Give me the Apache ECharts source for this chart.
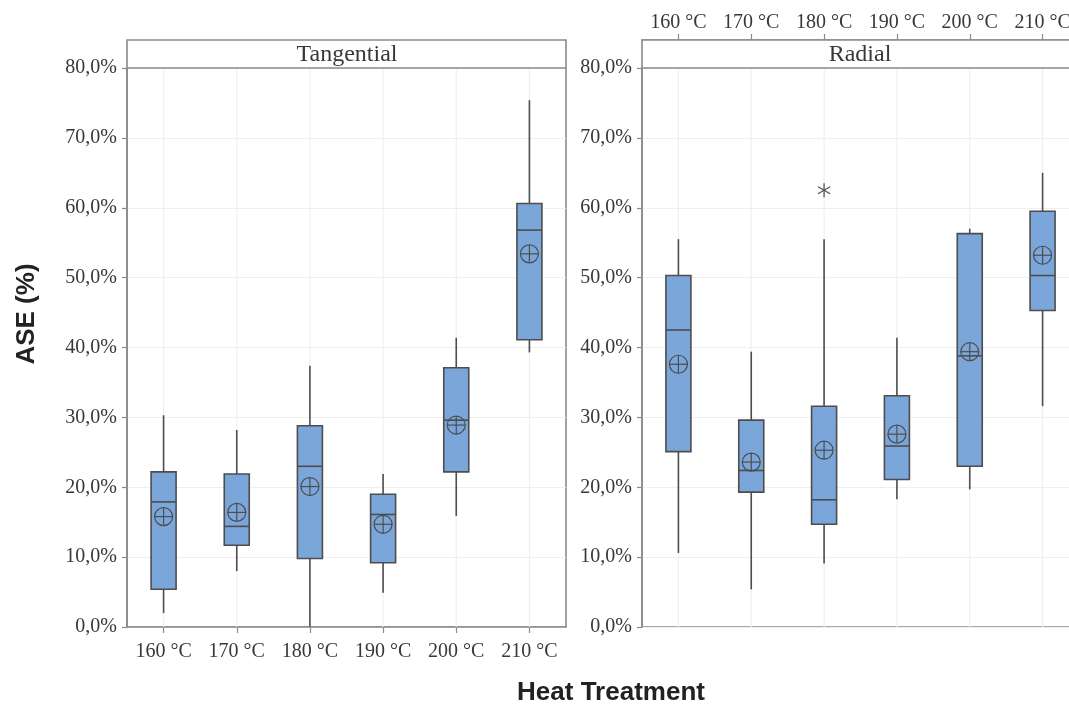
<!DOCTYPE html>
<html>
<head>
<meta charset="utf-8">
<script src="https://cdn.jsdelivr.net/npm/echarts@6/dist/echarts.min.js"></script>
<style>html,body{margin:0;padding:0;background:#fff}#c{width:1069px;height:706px}</style>
</head>
<body>
<div id="c"></div>
<script>
const categories = ['160 °C','170 °C','180 °C','190 °C','200 °C','210 °C'];
const yTicks = [0,10,20,30,40,50,60,70,80];
// [whiskerLow, Q1, median, Q3, whiskerHigh] in %
const tangentialBox = [
  [2.0, 5.4, 17.9, 22.2, 30.3],
  [8.0, 11.7, 14.4, 21.9, 28.2],
  [0.0, 9.8, 23.0, 28.8, 37.4],
  [4.9, 9.2, 16.1, 19.0, 21.9],
  [15.9, 22.2, 29.6, 37.1, 41.4],
  [39.3, 41.1, 56.8, 60.6, 75.4]
];
const tangentialMean = [15.8, 16.4, 20.1, 14.7, 28.9, 53.4];
const radialBox = [
  [10.6, 25.1, 42.5, 50.3, 55.5],
  [5.4, 19.3, 22.4, 29.6, 39.4],
  [9.1, 14.7, 18.2, 31.6, 55.5],
  [18.3, 21.1, 25.9, 33.1, 41.4],
  [19.7, 23.0, 38.8, 56.3, 57.0],
  [31.6, 45.3, 50.3, 59.5, 65.0]
];
const radialMean = [37.6, 23.6, 25.3, 27.6, 39.4, 53.2];
const radialOutliers = [[2, 62.5]];

const AX = '#8a8a8a', EDGE = '#4d4d4d', FILL = '#7ba6da', GRID = '#efefef';
const SERIF = '"Liberation Serif","Times New Roman",serif';
const SANS = '"Liberation Sans",Arial,sans-serif';
const fmt = v => v.toFixed(1).replace('.', ',') + '%';
const yMin = yTicks[0], yMax = yTicks[yTicks.length - 1];

function boxRender(params, api) {
  const i = api.value(0);
  const x = api.coord([i, 0])[0];
  const yl = api.coord([i, api.value(1)])[1];
  const q1 = api.coord([i, api.value(2)])[1];
  const md = api.coord([i, api.value(3)])[1];
  const q3 = api.coord([i, api.value(4)])[1];
  const yh = api.coord([i, api.value(5)])[1];
  const hw = 12.5;
  const ls = {stroke: EDGE, lineWidth: 1.6};
  return {type: 'group', children: [
    {type: 'line', shape: {x1: x, y1: q3, x2: x, y2: yh}, style: ls},
    {type: 'line', shape: {x1: x, y1: q1, x2: x, y2: yl}, style: ls},
    {type: 'rect', shape: {x: x - hw, y: q3, width: hw * 2, height: q1 - q3}, style: {fill: FILL, stroke: EDGE, lineWidth: 1.6}},
    {type: 'line', shape: {x1: x - hw, y1: md, x2: x + hw, y2: md}, style: ls}
  ]};
}
function meanRender(params, api) {
  const p = api.coord([api.value(0), api.value(1)]);
  const r = 9;
  const ls = {stroke: EDGE, lineWidth: 1.2};
  return {type: 'group', children: [
    {type: 'circle', shape: {cx: p[0], cy: p[1], r: r}, style: {stroke: EDGE, lineWidth: 1.2, fill: 'none'}},
    {type: 'line', shape: {x1: p[0] - r, y1: p[1], x2: p[0] + r, y2: p[1]}, style: ls},
    {type: 'line', shape: {x1: p[0], y1: p[1] - r, x2: p[0], y2: p[1] + r}, style: ls}
  ]};
}
function starRender(params, api) {
  const p = api.coord([api.value(0), api.value(1)]);
  const r = 7, ls = {stroke: '#555', lineWidth: 1.3};
  const ch = [];
  for (let k = 0; k < 3; k++) {
    const a = Math.PI / 2 + k * Math.PI / 3;
    ch.push({type: 'line', shape: {x1: p[0] - r * Math.cos(a), y1: p[1] - r * Math.sin(a), x2: p[0] + r * Math.cos(a), y2: p[1] + r * Math.sin(a)}, style: ls});
  }
  return {type: 'group', children: ch};
}
function vgridRender(params, api) {
  const i = api.value(0);
  const a = api.coord([i, yMin]), b = api.coord([i, yMax]);
  return {type: 'line', shape: {x1: a[0], y1: a[1], x2: b[0], y2: b[1]}, style: {stroke: GRID, lineWidth: 1.2}};
}

const boxData = arr => arr.map((b, i) => [i].concat(b));
const meanData = arr => arr.map((m, i) => [i, m]);
const catIdx = categories.map((c, i) => [i]);

function yAxis(idx) {
  return {
    type: 'value', gridIndex: idx, min: yMin, max: yMax, interval: 10,
    axisLine: {show: true, lineStyle: {color: AX, width: 1.6}},
    axisTick: {show: true, length: 5, lineStyle: {color: AX, width: 1.2}},
    axisLabel: {formatter: fmt, color: '#383838', fontFamily: SERIF, fontSize: 20, margin: 10},
    splitLine: {show: true, lineStyle: {color: GRID, width: 1.2}}
  };
}
function xAxis(idx, pos, offset, margin) {
  return {
    type: 'category', gridIndex: idx, data: categories, position: pos, offset: offset,
    boundaryGap: true,
    axisLine: {show: true, onZero: false, lineStyle: {color: AX, width: 1.6}},
    axisTick: {show: true, alignWithLabel: true, length: 6, lineStyle: {color: AX, width: 1.2}},
    axisLabel: {show: true, interval: 0, color: '#383838', fontFamily: SERIF, fontSize: 20, margin: margin},
    splitLine: {show: false}
  };
}

const chart = echarts.init(document.getElementById('c'), null, {renderer: 'canvas'});
chart.setOption({
  backgroundColor: '#fff',
  animation: false,
  grid: [
    {left: 127, top: 68, width: 439, height: 559, outerBoundsMode: 'none', containLabel: false, show: true, borderColor: AX, borderWidth: 1.6, backgroundColor: 'transparent'},
    {left: 642, top: 68, right: -10, height: 559, outerBoundsMode: 'none', containLabel: false, show: true, borderColor: AX, borderWidth: 1.6, backgroundColor: 'transparent'}
  ],
  xAxis: [xAxis(0, 'bottom', 0, 15), xAxis(1, 'top', 28, 7)],
  yAxis: [yAxis(0), yAxis(1)],
  graphic: [
    {type: 'rect', shape: {x: 127, y: 40, width: 439, height: 28}, style: {fill: '#fff', stroke: AX, lineWidth: 1.6}, z: 10},
    {type: 'text', x: 347, y: 55, style: {text: 'Tangential', font: '24px ' + SERIF, fill: '#383838', textAlign: 'center', textVerticalAlign: 'middle'}, z: 11},
    {type: 'rect', shape: {x: 642, y: 40, width: 437, height: 28}, style: {fill: '#fff', stroke: AX, lineWidth: 1.6}, z: 10},
    {type: 'text', x: 860, y: 55, style: {text: 'Radial', font: '24px ' + SERIF, fill: '#383838', textAlign: 'center', textVerticalAlign: 'middle'}, z: 11},
    {type: 'text', x: 27, y: 314, rotation: Math.PI / 2, style: {text: 'ASE (%)', font: 'bold 26px ' + SANS, fill: '#222', textAlign: 'center', textVerticalAlign: 'middle'}},
    {type: 'text', x: 611, y: 693, style: {text: 'Heat Treatment', font: 'bold 26px ' + SANS, fill: '#222', textAlign: 'center', textVerticalAlign: 'middle'}}
  ],
  series: [
    {type: 'custom', xAxisIndex: 0, yAxisIndex: 0, data: catIdx, renderItem: vgridRender, z: 1, silent: true},
    {type: 'custom', xAxisIndex: 1, yAxisIndex: 1, data: catIdx, renderItem: vgridRender, z: 1, silent: true},
    {type: 'custom', xAxisIndex: 0, yAxisIndex: 0, data: boxData(tangentialBox), renderItem: boxRender, z: 3},
    {type: 'custom', xAxisIndex: 0, yAxisIndex: 0, data: meanData(tangentialMean), renderItem: meanRender, z: 4},
    {type: 'custom', xAxisIndex: 1, yAxisIndex: 1, data: boxData(radialBox), renderItem: boxRender, z: 3},
    {type: 'custom', xAxisIndex: 1, yAxisIndex: 1, data: meanData(radialMean), renderItem: meanRender, z: 4},
    {type: 'custom', xAxisIndex: 1, yAxisIndex: 1, data: radialOutliers, renderItem: starRender, z: 4}
  ]
});
</script>
</body>
</html>
